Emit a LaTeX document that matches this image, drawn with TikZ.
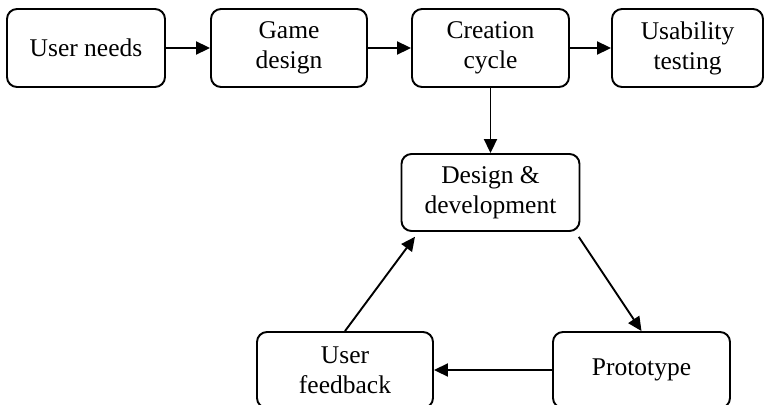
\documentclass[tikz,border=0pt]{standalone}
\usepackage{fontspec}
\setmainfont{Liberation Serif}
\usetikzlibrary{arrows.meta,positioning}
\begin{document}
\begin{tikzpicture}[x=1pt,y=-1pt,
  box/.style={draw,line width=1.9pt,rounded corners=10pt,align=center,
    font=\fontsize{25.5}{30}\selectfont,inner sep=0pt},
  arr/.style={line width=1.9pt,-{Triangle[length=14pt,width=13pt]}}]
\useasboundingbox (0,0) rectangle (765,404);
\clip (0,0) rectangle (765,404);
\node[box,minimum width=158pt,minimum height=78pt] (un) at (86,48) {User needs};
\node[box,minimum width=156pt,minimum height=78pt] (gd) at (289,48) {Game\\design};
\node[box,minimum width=157pt,minimum height=78pt] (cc) at (490.5,48) {Creation\\cycle};
\node[box,minimum width=151pt,minimum height=78pt] (ut) at (687.5,48) {Usability\\testing};
\node[box,minimum width=178pt,minimum height=77pt] (dd) at (490.5,192.5) {Design \&\\development};
\node[box,minimum width=176pt,minimum height=76pt] (uf) at (345,370) {User\\feedback};
\node[box,minimum width=177pt,minimum height=76pt] (pr) at (641.5,370) {Prototype};
\draw[arr] (un.east) -- (gd.west);
\draw[arr] (gd.east) -- (cc.west);
\draw[arr] (cc.east) -- (ut.west);
\draw[arr] (cc.south) -- (dd.north);
\draw[arr,shorten <=6pt] ([xshift=-5pt]dd.south east) -- (pr.north);
\draw[arr] (pr.west) -- (uf.east);
\draw[arr,shorten >=6pt] (uf.north) -- ([xshift=18pt]dd.south west);
\end{tikzpicture}
\end{document}
